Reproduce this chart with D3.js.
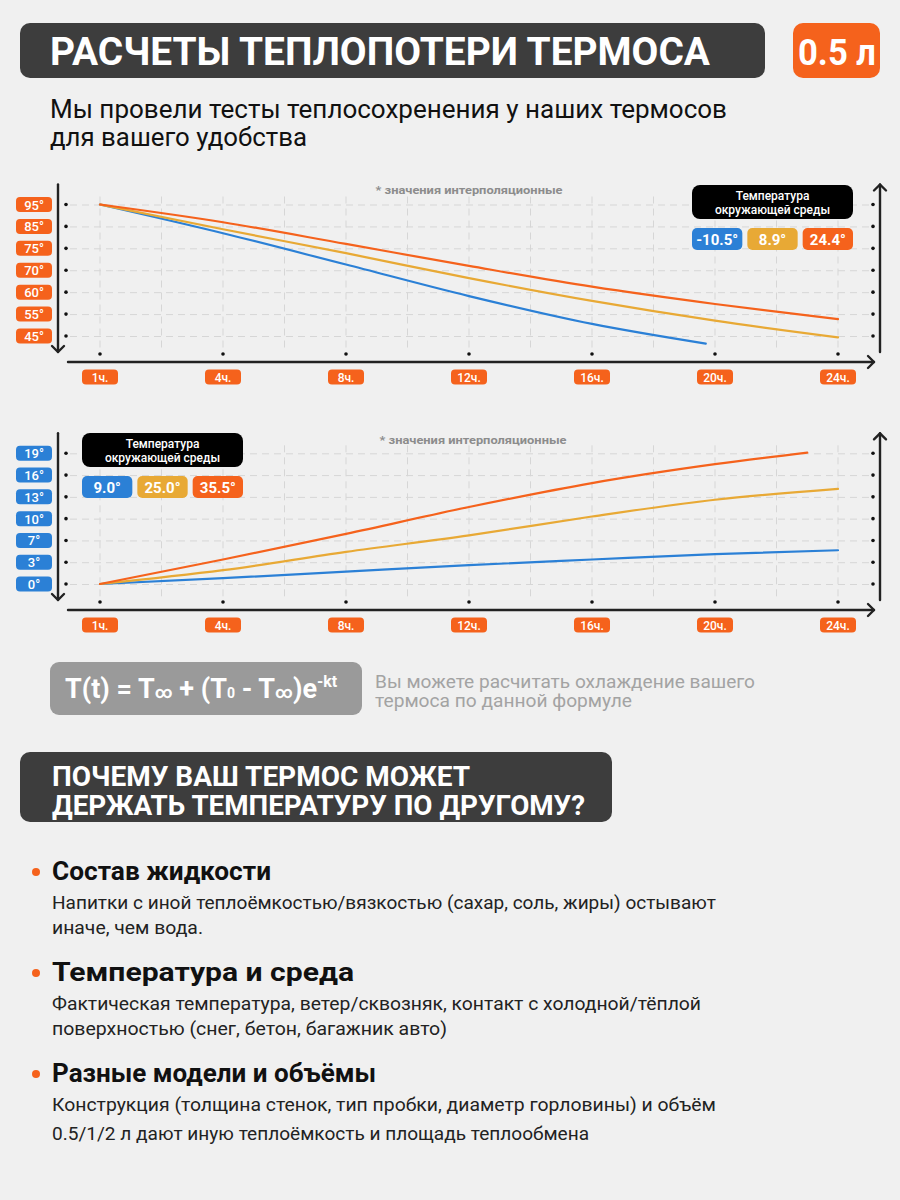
<!DOCTYPE html>
<html>
<head>
<meta charset="utf-8">
<script src="https://cdn.jsdelivr.net/npm/d3@7"></script>
<style>
  html, body { margin: 0; padding: 0; background: #f0f0f0; }
  svg { display: block; }
</style>
</head>
<body>
<div id="chart"></div>
<script>
// ---- DATA ----
const hourTicks = [1, 4, 8, 12, 16, 20, 24];
const hourLabels = ["1ч.", "4ч.", "8ч.", "12ч.", "16ч.", "20ч.", "24ч."];

// cooling chart (top)
const coolTicks = [95, 85, 75, 70, 60, 55, 45];
const coolLegend = ["-10.5°", "8.9°", "24.4°"];
const coolHoursBlue = [1, 4, 8, 12, 16, 19.7];
const coolBlue = [95, 81.9, 71.3, 59.1, 50.5, 41.5];
const coolHoursYellow = [1, 4, 8, 12, 16, 20, 24];
const coolYellow = [95, 83.7, 73.9, 66.4, 58.0, 52.0, 44.4];
const coolHoursOrange = [1, 4, 8, 12, 16, 20, 24];
const coolOrange = [95, 86.9, 77.0, 71.0, 62.5, 57.3, 52.7];

// heating chart (bottom)
const heatTicks = [19, 16, 13, 10, 7, 3, 0];
const heatLegend = ["9.0°", "25.0°", "35.5°"];
const heatHoursBlue = [1, 4, 8, 12, 16, 20, 24];
const heatBlue = [0, 0.8, 1.7, 2.6, 3.5, 4.5, 5.2];
const heatHoursYellow = [1, 4, 8, 12, 16, 20, 24];
const heatYellow = [0, 1.9, 4.9, 7.7, 10.3, 12.6, 14.1];
const heatHoursOrange = [1, 4, 8, 12, 16, 20, 23];
const heatOrange = [0, 3.5, 7.9, 11.6, 14.9, 17.5, 19.1];

const bullets = [
    { title: "Состав жидкости",
      lines: ["Напитки с иной теплоёмкостью/вязкостью (сахар, соль, жиры) остывают", "иначе, чем вода."] },
    { title: "Температура и среда",
      lines: ["Фактическая температура, ветер/сквозняк, контакт с холодной/тёплой", "поверхностью (снег, бетон, багажник авто)"] },
    { title: "Разные модели и объёмы",
      lines: ["Конструкция (толщина стенок, тип пробки, диаметр горловины) и объём", "0.5/1/2 л дают иную теплоёмкость и площадь теплообмена"] }
];

// ---- STYLE ----
const FONT = "Roboto, 'Open Sans', sans-serif";
const C_BLUE = "#2b80d6", C_YELLOW = "#e8a935", C_ORANGE = "#f5621c";
const C_DARK = "#3d3d3d", C_BG = "#f0f0f0";

const svg = d3.select("#chart").append("svg")
    .attr("width", 900).attr("height", 1200);
svg.append("rect").attr("width", 900).attr("height", 1200).attr("fill", C_BG);

function addText(g, str, x, y, size, opts = {}) {
    const t = g.append("text")
        .attr("x", x).attr("y", y)
        .attr("font-family", FONT)
        .attr("font-size", size)
        .attr("font-weight", opts.weight || 400)
        .attr("fill", opts.fill || "#111")
        .attr("text-anchor", opts.anchor || "start")
        .text(str);
    if (opts.len) t.attr("textLength", opts.len).attr("lengthAdjust", "spacingAndGlyphs");
    return t;
}

// ---- HEADER ----
svg.append("rect").attr("x", 20).attr("y", 23).attr("width", 745).attr("height", 55)
    .attr("rx", 10).attr("fill", C_DARK);
addText(svg, "РАСЧЕТЫ ТЕПЛОПОТЕРИ ТЕРМОСА", 50, 65, 39, { weight: 700, fill: "#fff", len: 660 });
svg.append("rect").attr("x", 793).attr("y", 23).attr("width", 87).attr("height", 55)
    .attr("rx", 10).attr("fill", C_ORANGE);
addText(svg, "0.5 л", 837, 65, 37, { weight: 700, fill: "#fff", anchor: "middle", len: 78 });

addText(svg, "Мы провели тесты теплосохренения у наших термосов", 50, 118, 25, { len: 677 });
addText(svg, "для вашего удобства", 50, 146, 25, { len: 257 });

// ---- CHARTS ----
const x = d3.scaleLinear()
    .domain(hourTicks)
    .range(hourTicks.map((d, i) => 100 + i * (838 - 100) / (hourTicks.length - 1)));

function drawChart(cfg) {
    const y0 = cfg.y0, y1 = cfg.y1;
    const y = d3.scaleLinear()
        .domain(cfg.ticks)
        .range(cfg.ticks.map((d, i) => y0 + i * (y1 - y0) / (cfg.ticks.length - 1)));

    const g = svg.append("g");

    // grid: horizontal via axis
    g.append("g")
        .attr("transform", "translate(70,0)")
        .call(d3.axisRight(y).tickValues(cfg.ticks).tickSize(800).tickFormat(""))
        .call(a => a.select(".domain").remove())
        .call(a => a.selectAll(".tick line")
            .attr("stroke", "#d6d6d6").attr("stroke-width", 1).attr("stroke-dasharray", "7,5"));

    // grid: vertical at ticks and midpoints
    const xs = [];
    hourTicks.forEach((h, i) => {
        xs.push(x(h));
        if (i < hourTicks.length - 1) xs.push((x(h) + x(hourTicks[i + 1])) / 2);
    });
    g.append("g").selectAll("line").data(xs).join("line")
        .attr("x1", d => d).attr("x2", d => d)
        .attr("y1", y0 - 8).attr("y2", y1 + 14)
        .attr("stroke", "#d6d6d6").attr("stroke-width", 1).attr("stroke-dasharray", "7,5");

    // axes lines with arrows
    const ax = g.append("g").attr("stroke", "#222").attr("stroke-width", 2.4)
        .attr("fill", "none").attr("stroke-linecap", "round").attr("stroke-linejoin", "round");
    ax.append("line").attr("x1", 58).attr("x2", 58).attr("y1", y0 - 20).attr("y2", y1 + 16);
    ax.append("path").attr("d", `M52,${y1 + 10} L58,${y1 + 16} L64,${y1 + 10}`);
    ax.append("line").attr("x1", 880).attr("x2", 880).attr("y1", y1 + 16).attr("y2", y0 - 20);
    ax.append("path").attr("d", `M874,${y0 - 14} L880,${y0 - 20} L886,${y0 - 14}`);
    ax.append("line").attr("x1", 68).attr("x2", 874).attr("y1", y1 + 26).attr("y2", y1 + 26);
    ax.append("path").attr("d", `M868,${y1 + 20} L874,${y1 + 26} L868,${y1 + 32}`);

    // dots
    g.append("g").selectAll("circle").data(cfg.ticks).join("circle")
        .attr("cx", 66).attr("cy", d => y(d)).attr("r", 1.8).attr("fill", "#111");
    g.append("g").selectAll("circle").data(cfg.ticks).join("circle")
        .attr("cx", 873).attr("cy", d => y(d)).attr("r", 1.8).attr("fill", "#111");
    g.append("g").selectAll("circle").data(hourTicks).join("circle")
        .attr("cx", d => x(d)).attr("cy", y1 + 18).attr("r", 1.8).attr("fill", "#111");

    // y labels
    const yl = g.append("g").selectAll("g").data(cfg.ticks).join("g")
        .attr("transform", d => `translate(34,${y(d)})`);
    yl.append("rect").attr("x", -18).attr("y", -7.5).attr("width", 36).attr("height", 15)
        .attr("rx", 4).attr("fill", cfg.labelColor);
    yl.append("text").attr("text-anchor", "middle").attr("y", 5)
        .attr("font-family", FONT).attr("font-size", 13).attr("font-weight", 500)
        .attr("fill", "#fff").text(d => d + "°");

    // x labels
    const xl = g.append("g").selectAll("g").data(hourTicks).join("g")
        .attr("transform", d => `translate(${x(d)},${y1 + 41})`);
    xl.append("rect").attr("x", -18).attr("y", -7.5).attr("width", 36).attr("height", 15)
        .attr("rx", 4).attr("fill", C_ORANGE);
    xl.append("text").attr("text-anchor", "middle").attr("y", 4.5)
        .attr("font-family", FONT).attr("font-size", 12).attr("font-weight", 500)
        .attr("fill", "#fff").text((d, i) => hourLabels[i]);

    // note
    addText(g, "* значения интерполяционные", cfg.noteX, cfg.noteY, 11,
        { weight: 700, fill: "#8c8c8c", anchor: "middle", len: 187 });

    // lines
    const line = d3.line().x(d => x(d[0])).y(d => y(d[1])).curve(d3.curveMonotoneX);
    cfg.series.forEach(s => {
        g.append("path")
            .datum(d3.zip(s.hours, s.values))
            .attr("d", line)
            .attr("fill", "none")
            .attr("stroke", s.color)
            .attr("stroke-width", 2.2)
            .attr("stroke-linecap", "round");
    });

    // legend
    const lg = g.append("g").attr("transform", `translate(${cfg.legX},${cfg.legY})`);
    lg.append("rect").attr("width", 161).attr("height", 34).attr("rx", 8).attr("fill", "#000");
    addText(lg, "Температура", 80.5, 14.5, 12, { weight: 500, fill: "#fff", anchor: "middle" });
    addText(lg, "окружающей среды", 80.5, 28.5, 12, { weight: 500, fill: "#fff", anchor: "middle" });
    const pw = (161 - 10) / 3;
    cfg.legend.forEach((lab, i) => {
        lg.append("rect").attr("x", i * (pw + 5)).attr("y", 43).attr("width", pw).attr("height", 22)
            .attr("rx", 5).attr("fill", cfg.series[i].color);
        addText(lg, lab, i * (pw + 5) + pw / 2, 59.5, 15, { weight: 700, fill: "#fff", anchor: "middle" });
    });
}

drawChart({
    ticks: coolTicks, y0: 204.5, y1: 336, labelColor: C_ORANGE,
    noteX: 469, noteY: 194, legX: 692, legY: 185, legend: coolLegend,
    series: [
        { hours: coolHoursBlue, values: coolBlue, color: C_BLUE },
        { hours: coolHoursYellow, values: coolYellow, color: C_YELLOW },
        { hours: coolHoursOrange, values: coolOrange, color: C_ORANGE }
    ]
});

drawChart({
    ticks: heatTicks, y0: 453.3, y1: 584, labelColor: C_BLUE,
    noteX: 473, noteY: 444, legX: 82, legY: 433, legend: heatLegend,
    series: [
        { hours: heatHoursBlue, values: heatBlue, color: C_BLUE },
        { hours: heatHoursYellow, values: heatYellow, color: C_YELLOW },
        { hours: heatHoursOrange, values: heatOrange, color: C_ORANGE }
    ]
});

// ---- FORMULA ----
svg.append("rect").attr("x", 50).attr("y", 662).attr("width", 312).attr("height", 53)
    .attr("rx", 9).attr("fill", "#9a9a9a");
const ft = svg.append("text").attr("x", 65).attr("y", 698)
    .attr("font-family", FONT).attr("font-size", 27).attr("font-weight", 700).attr("fill", "#fff");
ft.append("tspan").text("T(t) = T");
ft.append("tspan").attr("font-size", 17).text("∞");
ft.append("tspan").text(" + (T");
ft.append("tspan").attr("font-size", 14).text("0");
ft.append("tspan").text(" - T");
ft.append("tspan").attr("font-size", 17).text("∞");
ft.append("tspan").text(")e");
ft.append("tspan").attr("font-size", 16).attr("dy", -11).text("-kt");

addText(svg, "Вы можете расчитать охлаждение вашего", 375, 688, 18, { fill: "#a3a3a3", len: 380 });
addText(svg, "термоса по данной формуле", 375, 707, 18, { fill: "#a3a3a3", len: 257 });

// ---- SECTION 2 ----
svg.append("rect").attr("x", 20).attr("y", 752).attr("width", 592).attr("height", 70)
    .attr("rx", 10).attr("fill", C_DARK);
addText(svg, "ПОЧЕМУ ВАШ ТЕРМОС МОЖЕТ", 52, 786, 27, { weight: 700, fill: "#fff", len: 418 });
addText(svg, "ДЕРЖАТЬ ТЕМПЕРАТУРУ ПО ДРУГОМУ?", 52, 815, 27, { weight: 700, fill: "#fff", len: 533 });

const bulletY = [880, 981, 1082];
const bodyW = [[664, 151], [649, 395], [664, 537]];
const titleW = [219, 302, 324];
bullets.forEach((b, i) => {
    const by = bulletY[i];
    svg.append("circle").attr("cx", 36).attr("cy", by - 8).attr("r", 4).attr("fill", C_ORANGE);
    addText(svg, b.title, 52, by, 26, { weight: 700, len: titleW[i] });
    b.lines.forEach((ln, j) => {
        addText(svg, ln, 52, by + 29 + j * (i === 2 ? 29 : 25), 18, { fill: "#222", len: bodyW[i][j] });
    });
});
</script>
</body>
</html>
